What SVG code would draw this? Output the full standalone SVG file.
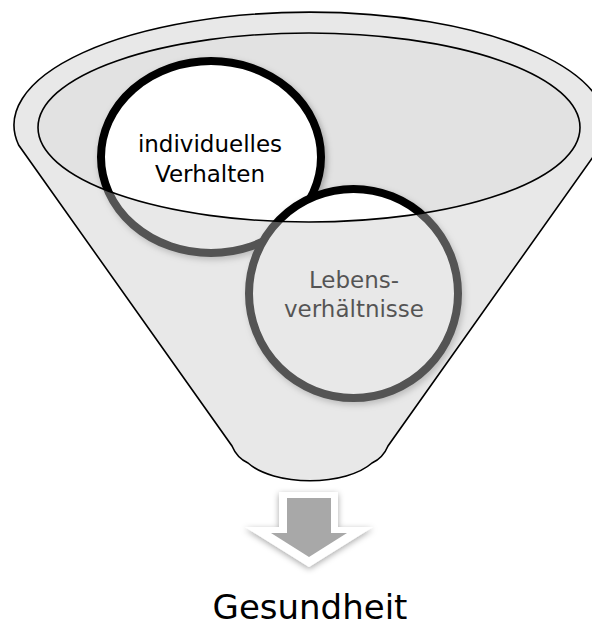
<svg xmlns="http://www.w3.org/2000/svg" width="592" height="628" viewBox="0 0 592 628">
<style>
.lbl{font-family:"DejaVu Sans","Liberation Sans",sans-serif;font-size:23px;text-anchor:middle;fill:#000}
.ring{fill:#fff;stroke:#000;stroke-width:8}
.line{fill:none;stroke:#000;stroke-width:1.6}
</style>
<defs>
<filter id="sh" x="-20%" y="-20%" width="140%" height="140%">
<feDropShadow dx="2" dy="3" stdDeviation="3" flood-color="#000" flood-opacity="0.3"/>
</filter>
<filter id="ash" x="-30%" y="-30%" width="160%" height="160%">
<feDropShadow dx="0" dy="2" stdDeviation="3" flood-color="#000" flood-opacity="0.35"/>
</filter>
</defs>
<rect width="592" height="628" fill="#fff"/>
<g id="funnel-inner">
<ellipse cx="309" cy="127.5" rx="271" ry="94.5" fill="#e2e2e2"/>
</g>
<g id="node-verhalten">
<ellipse class="ring" cx="211" cy="157" rx="110" ry="96" filter="url(#sh)"/>
<text class="lbl" x="210" y="152">individuelles</text>
<text class="lbl" x="210" y="182">Verhalten</text>
</g>
<g id="node-lebens">
<circle class="ring" cx="353.5" cy="293.5" r="104.5" filter="url(#sh)"/>
<text class="lbl" x="354" y="288">Lebens-</text>
<text class="lbl" x="354" y="317">verhältnisse</text>
</g>
<g id="funnel-body">
<path d="M18.6,145 A296 113 0 1 1 601.4,145 L388,446 Q383,458 372,463 A70 33 0 0 1 248,463 Q237,458 232,446 Z M38,127.5 A271 94.5 0 1 0 580,127.5 A271 94.5 0 1 0 38,127.5 Z" fill="#c8c8c8" fill-opacity="0.42" fill-rule="evenodd"/>
<path class="line" d="M18.6,145 A296 113 0 1 1 601.4,145 L388,446 Q383,458 372,463 A70 33 0 0 1 248,463 Q237,458 232,446 Z"/>
<ellipse class="line" cx="309" cy="127.5" rx="271" ry="94.5"/>
</g>
<g id="connectors">
<polygon points="279,492 338,492 338,527 373,527 309,567 245,527 279,527" fill="#fff" filter="url(#ash)"/>
<polygon points="287,498 331,498 331,533 347,533 309,557 271,533 287,533" fill="#a8a8a8"/>
</g>
<g id="node-gesundheit">
<text x="310" y="619" font-family="DejaVu Sans, Liberation Sans, sans-serif" font-size="34" text-anchor="middle" fill="#000">Gesundheit</text>
</g>
</svg>
